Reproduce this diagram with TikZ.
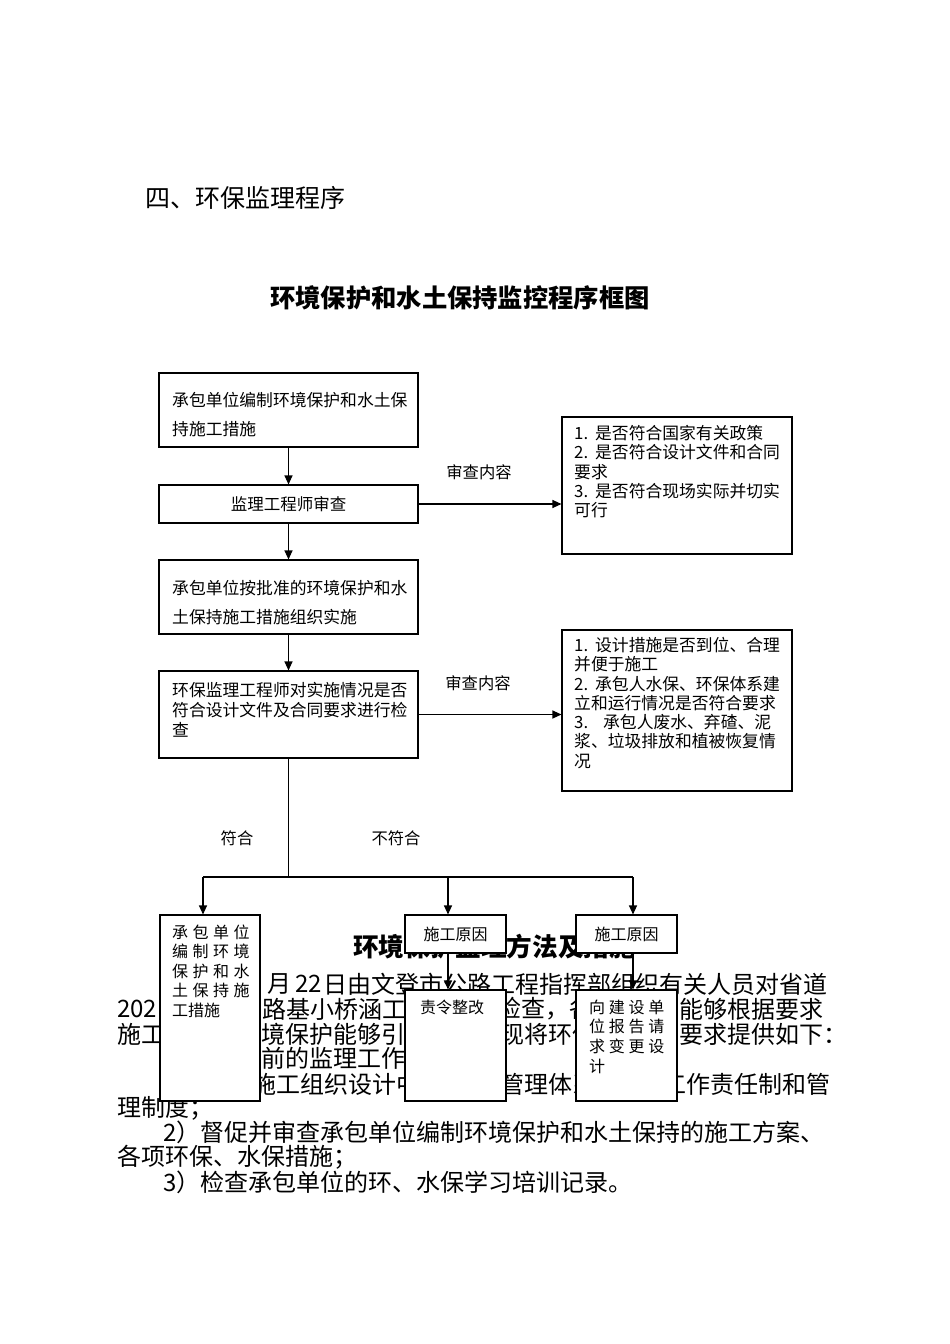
\documentclass[tikz,border=0pt]{standalone}
\usepackage{fontspec}
\setmainfont{Noto Sans CJK SC}
\usetikzlibrary{arrows.meta,calc}
\newcommand{\gapA}{\hspace{4.5pt}}
\newcommand{\gapB}{\hspace{3.7pt}}
\begin{document}
\begin{tikzpicture}[x=1pt,y=-1pt,
  box/.style={draw,fill=white,line width=1.1pt,inner sep=0pt},
  txt/.style={inner sep=0pt,anchor=north west,align=left},
  body/.style={inner sep=0pt,anchor=west,font=\fontsize{24}{24}\selectfont},
  lbl/.style={inner sep=0pt,font=\fontsize{16.3}{16.3}\selectfont},
  conn/.style={line width=1.1pt},
  arr/.style={line width=1.1pt,-{Triangle[length=9pt,width=8pt]}}]
\useasboundingbox (0,0) rectangle (950,1344);
\fill[white] (0,0) rectangle (950,1344);

% headings
\node[body,font=\fontsize{25}{25}\selectfont] (sec) at (145,198) {四、环保监理程序};
\node[inner sep=0pt,font=\bfseries\fontsize{25.3}{25.3}\selectfont] (title) at (460,298) {环境保护和水土保持监控程序框图};

% background document text (partly hidden by the boxes)
\node[body,font=\bfseries\fontsize{25.6}{25.6}\selectfont] (h2) at (353,947) {环境保护监理方法及措施};
\node[body] (l1a) at (267,984) {月};
\node[body] (l1b) at (295,984) {22};
\node[body] (l1c) at (323,984) {日由文登市公路工程指挥部组织有关人员对省道};
\node[body] (l2a) at (117,1009) {202};
\node[body] (l2b) at (262,1009) {路基小桥涵工程};
\node[body] (l2c) at (497,1009) {检查，各};
\node[body] (l2d) at (655,1009) {位能够根据要求};
\node[body] (l3a) at (117,1034) {施工};
\node[body] (l3b) at (261,1034) {境保护能够引};
\node[body] (l3c) at (500,1034) {现将环保};
\node[body] (l3d) at (679,1034) {要求提供如下：};
\node[body] (l4a) at (261,1058) {前的监理工作};
\node[body] (l5a) at (252,1084) {施工组织设计中};
\node[body] (l5b) at (500,1084) {管理体系};
\node[body] (l5c) at (662,1084) {工作责任制和管};
\node[body] (l6) at (117,1108) {理制度；};
\node[body] (l7) at (163,1132) {2）督促并审查承包单位编制环境保护和水土保持的施工方案、};
\node[body] (l8) at (117,1157) {各项环保、水保措施；};
\node[body] (l9) at (163,1182) {3）检查承包单位的环、水保学习培训记录。};

% boxes
\node[box,minimum width=259pt,minimum height=74pt] (A) at (288.5,410) {};
\node[box,minimum width=259pt,minimum height=38pt,font=\fontsize{16.5}{16.5}\selectfont] (B) at (288.5,504) {监理工程师审查};
\node[box,minimum width=259pt,minimum height=74pt] (C) at (288.5,597) {};
\node[box,minimum width=259pt,minimum height=87pt] (D) at (288.5,714.5) {};
\node[box,minimum width=230pt,minimum height=137pt] (E) at (677,485.5) {};
\node[box,minimum width=230pt,minimum height=161pt] (F) at (677,710.5) {};
\node[box,minimum width=100pt,minimum height=186pt] (G) at (210,1008) {};
\node[box,minimum width=101pt,minimum height=38pt,font=\fontsize{16}{16}\selectfont] (H) at (455.5,934) {施工原因};
\node[box,minimum width=101pt,minimum height=38pt,font=\fontsize{16}{16}\selectfont] (I) at (626.5,934) {施工原因};
\node[box,minimum width=101pt,minimum height=111pt] (J) at (455.5,1045.5) {};
\node[box,minimum width=101pt,minimum height=111pt] (K) at (626.5,1045.5) {};

% box texts
\node[txt,font=\fontsize{16.8}{29}\selectfont] (tA) at (172,392) {承包单位编制环境保护和水土保\\持施工措施};
\node[txt,font=\fontsize{16.8}{29}\selectfont] (tC) at (172,580) {承包单位按批准的环境保护和水\\土保持施工措施组织实施};
\node[txt,font=\fontsize{16.8}{20}\selectfont] (tD) at (172,682) {环保监理工程师对实施情况是否\\符合设计文件及合同要求进行检\\查};
\node[txt,font=\fontsize{16.8}{19.3}\selectfont] (tE) at (574,425) {1.\hspace{7pt}是否符合国家有关政策\\2.\hspace{7pt}是否符合设计文件和合同\\要求\\3.\hspace{7pt}是否符合现场实际并切实\\可行};
\node[txt,font=\fontsize{16.8}{19.3}\selectfont] (tF) at (574,637) {1.\hspace{7pt}设计措施是否到位、合理\\并便于施工\\2.\hspace{7pt}承包人水保、环保体系建\\立和运行情况是否符合要求\\3.\hspace{15pt}承包人废水、弃碴、泥\\浆、垃圾排放和植被恢复情\\况};
\node[txt,font=\fontsize{16}{19.5}\selectfont] (tG) at (172,924.5) {承\gapA 包\gapA 单\gapA 位\\编\gapA 制\gapA 环\gapA 境\\保\gapA 护\gapA 和\gapA 水\\土\gapA 保\gapA 持\gapA 施\\工措施};
\node[txt,font=\fontsize{16}{19.7}\selectfont] (tJ) at (420,999.5) {责令整改};
\node[txt,font=\fontsize{16}{19.7}\selectfont] (tK) at (589,999.5) {向\gapB 建\gapB 设\gapB 单\\位\gapB 报\gapB 告\gapB 请\\求\gapB 变\gapB 更\gapB 设\\计};

% connectors
\draw[arr] (A) -- (B);
\draw[arr] (B) -- (C);
\draw[arr] (C) -- (D);
\draw[arr] (B.east) -- (B.east -| E.west);
\draw[arr] (D.east) -- (D.east -| F.west);
\node[lbl] (q1) at (479,472) {审查内容};
\node[lbl] (q2) at (478,683) {审查内容};

\coordinate (split) at (288.5,877);
\coordinate (jL) at (203,877);
\coordinate (jM) at (448,877);
\coordinate (jR) at (633,877);
\draw[conn] (D.south) -- (split);
\draw[conn] (jL) -- (jR);
\draw[arr] (jL) -- (jL |- G.north);
\draw[arr] (jM) -- (jM |- H.north);
\draw[arr] (jR) -- (jR |- I.north);
\draw[arr] (jM |- H.south) -- (jM |- J.north);
\draw[arr] (jR |- I.south) -- (jR |- K.north);
\node[lbl] (ok) at (237,838) {符合};
\node[lbl] (nok) at (396,838) {不符合};
\end{tikzpicture}
\end{document}
